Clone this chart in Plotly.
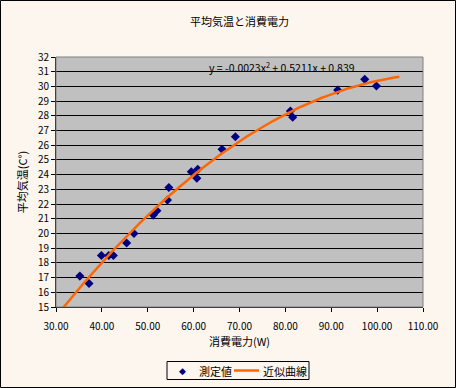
import numpy as np
import plotly.graph_objects as go

# measured data (consumption W, avg temperature C)
power = [35.2, 37.2, 39.9, 41.5, 42.5, 45.4, 47.0, 51.2, 52.0, 54.3, 54.6,
         59.5, 60.9, 60.7, 66.2, 69.1, 81.1, 81.6, 91.4, 97.3, 99.85]
temp = [17.1, 16.6, 18.5, 18.5, 18.5, 19.35, 20.0, 21.25, 21.55, 22.27, 23.13,
        24.2, 24.36, 23.75, 25.72, 26.58, 28.33, 27.9, 29.75, 30.48, 30.03]

# second-order polynomial trendline, forecast 5 units backward/forward
coef = np.polyfit(power, temp, 2)
xs = np.linspace(min(power) - 5, max(power) + 5, 200)
ys = np.polyval(coef, xs)

x_ticks = [30, 40, 50, 60, 70, 80, 90, 100, 110]
y_ticks = list(range(15, 33))
series_names = ["測定値", "近似曲線"]

FONT = "Noto Sans CJK JP"
NAVY = "#000080"
ORANGE = "#FF6600"

fig = go.Figure()
fig.add_trace(go.Scatter(x=power, y=temp, mode="markers", name=series_names[0],
                         showlegend=False,
                         marker=dict(symbol="diamond", color=NAVY, size=7)))
fig.add_trace(go.Scatter(x=xs, y=ys, mode="lines", name=series_names[1],
                         showlegend=False,
                         line=dict(color=ORANGE, width=2.5)))

W, H = 456, 388
L, R, T, B = 56, 33, 57, 81
pw, ph = W - L - R, H - T - B


def px(xp):
    return (xp - L) / pw


def py(yp):
    return (T + ph - yp) / ph


fig.update_layout(
    width=W, height=H,
    margin=dict(l=L, r=R, t=T, b=B),
    paper_bgcolor="#FDF6EF",
    plot_bgcolor="#C0C0C0",
    font=dict(family=FONT, size=10, color="black"),
    title=dict(text="平均気温と消費電力", x=0.5, xref="paper", y=1 - 22 / H,
               yanchor="middle", font=dict(size=11, family=FONT)),
    showlegend=False,
    xaxis=dict(range=[30, 110], tickvals=x_ticks, tickformat=".2f",
               showgrid=False, zeroline=False, showline=True, linecolor="black",
               ticks="outside", ticklen=4, tickcolor="black",
               ticklabelstandoff=6,
               tickfont=dict(size=10, family=FONT),
               title=dict(text="消費電力(W)", font=dict(size=11, family=FONT),
                          standoff=6)),
    yaxis=dict(range=[15, 32], tickvals=y_ticks,
               showgrid=True, gridcolor="black", gridwidth=1,
               zeroline=False, showline=True, linecolor="black",
               ticks="outside", ticklen=4, tickcolor="black",
               tickfont=dict(size=10, family=FONT),
               title=dict(text="平均気温(C°)", font=dict(size=11, family=FONT),
                          standoff=8)),
)

# plot area border (gray)
fig.add_shape(type="rect", xref="x domain", yref="y domain", x0=0, x1=1, y0=0, y1=1,
              line=dict(color="#808080", width=1), layer="above")
# outer chart border
fig.add_shape(type="rect", xref="paper", yref="paper",
              x0=px(0.5), x1=px(W - 0.5), y0=py(H - 0.5), y1=py(0.5),
              line=dict(color="black", width=1))

# legend (custom, to match compact layout)
fig.add_shape(type="rect", xref="paper", yref="paper",
              x0=px(167), x1=px(309), y0=py(379.5), y1=py(361.5),
              line=dict(color="black", width=1), fillcolor="#FDF6EF")
fig.add_annotation(text="◆", xref="paper", yref="paper", x=px(182.5), y=py(370.5),
                   xanchor="center", yanchor="middle", showarrow=False,
                   font=dict(size=9, color=NAVY, family="DejaVu Sans"))
fig.add_annotation(text=series_names[0], xref="paper", yref="paper", x=px(197),
                   y=py(370.5), xanchor="left", yanchor="middle", showarrow=False,
                   font=dict(size=11, family=FONT))
fig.add_shape(type="line", xref="paper", yref="paper",
              x0=px(234), x1=px(259), y0=py(370.5), y1=py(370.5),
              line=dict(color=ORANGE, width=2.5))
fig.add_annotation(text=series_names[1], xref="paper", yref="paper", x=px(261),
                   y=py(370.5), xanchor="left", yanchor="middle", showarrow=False,
                   font=dict(size=11, family=FONT))

fig.add_annotation(text="y = -0.0023x<sup>2</sup> + 0.5211x + 0.839",
                   xref="paper", yref="paper", x=px(207), xanchor="left",
                   y=py(67), yanchor="middle", showarrow=False,
                   font=dict(size=10.5, family=FONT))

fig.write_html("out.html")
